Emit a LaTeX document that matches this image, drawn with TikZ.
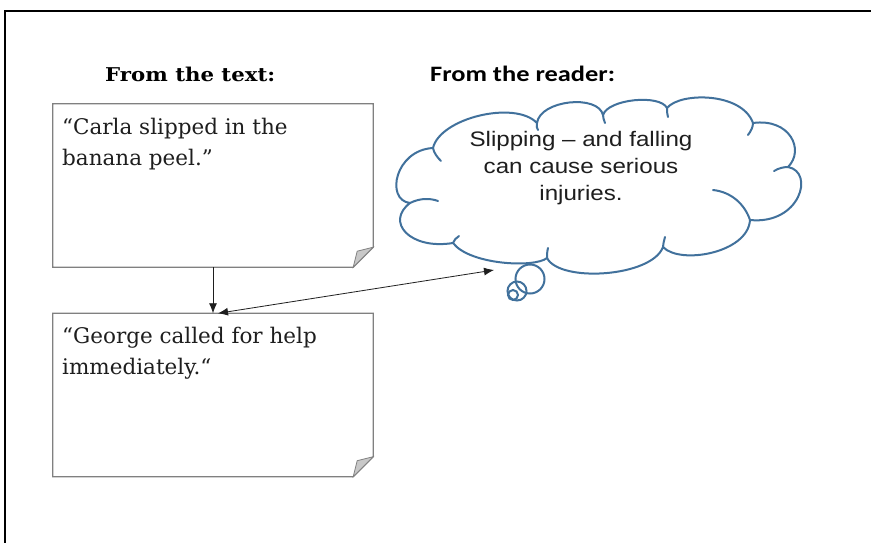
\documentclass[tikz,border=0pt]{standalone}
\usepackage{fontspec}
\usepackage{graphicx}
\setmainfont{DejaVu Serif}
\newfontfamily\carl{Carlito}
\newfontfamily\arialf{Liberation Sans}
\usetikzlibrary{arrows.meta}
\definecolor{cloudblue}{RGB}{65,113,156}
\definecolor{boxgray}{RGB}{128,128,128}
\definecolor{foldgray}{RGB}{200,200,200}
\definecolor{inkgray}{RGB}{30,30,30}
\begin{document}
\begin{tikzpicture}[x=1pt,y=-1pt,
  boxnode/.style={minimum width=320pt,minimum height=163pt,inner sep=0pt},
  paper/.style={draw=boxgray,line width=1.2pt,fill=white},
  fold/.style={draw=boxgray,line width=0.8pt,fill=foldgray},
  boxtext/.style={anchor=base west,inner sep=0pt,text=inkgray,font=\fontsize{21.5}{31}\selectfont},
  headA/.style={anchor=base west,inner sep=0pt,font=\bfseries\fontsize{19}{23}\selectfont},
  headB/.style={anchor=base west,inner sep=0pt,font=\carl\bfseries\fontsize{22}{26}\selectfont},
  cloudtext/.style={anchor=base,inner sep=0pt,text=inkgray,font=\arialf\fontsize{21}{27}\selectfont},
  cloudline/.style={draw=cloudblue,line width=2pt,fill=white,line join=round},
  stub/.style={draw=cloudblue,line width=2pt,line cap=round},
  bubble/.style={draw=cloudblue,line width=2pt},
  conn/.style={draw=inkgray,line width=0.8pt,-{Latex[length=10pt,width=8pt]}},
  conn2/.style={draw=inkgray,line width=0.8pt,{Latex[length=10pt,width=8pt]}-{Latex[length=10pt,width=8pt]}}]
\useasboundingbox (0,0) rectangle (871,542);
\clip (0,0) rectangle (871,542);
\fill[white] (0,0) rectangle (871,542);
\draw[line width=2pt] (900,11) -- (5,11) -- (5,600);

% headings
\node[headA] (h1) at (105,81) {\scalebox{1.12}[1]{From the text:}};
\node[headB] (h2) at (430,81) {\scalebox{1.2}[1]{From the reader:}};

% paper boxes
\node[boxnode] (b1) at (213,185.5) {};
\node[boxnode] (b2) at (213,395) {};
\foreach \b in {b1,b2}{
  \draw[paper] (\b.north west) -- (\b.north east) -- ([yshift=20pt]\b.south east)
     -- ([xshift=-20pt]\b.south east) -- (\b.south west) -- cycle;
  \draw[fold] ([yshift=20pt]\b.south east) -- ([xshift=-16pt,yshift=16pt]\b.south east)
     -- ([xshift=-20pt]\b.south east) -- cycle;
}
\node[boxtext] (t1) at (62,134) {\begin{tabular}[t]{@{}l@{}}“Carla slipped in the\\banana peel.”\end{tabular}};
\node[boxtext] (t2) at (62,343) {\begin{tabular}[t]{@{}l@{}}“George called for help\\immediately.“\end{tabular}};

% thought bubbles (behind the cloud)
\draw[bubble] (530,279) circle (14.5);
\draw[bubble] (517,291) circle (9.5);
\draw[bubble] (513,295) circle (5);

% cloud outline
\coordinate (j1) at (433,148);
\coordinate (j2) at (537,123);
\coordinate (j3) at (603,115);
\coordinate (j4) at (667,108);
\coordinate (j5) at (753,123);
\coordinate (j6) at (788,167);
\coordinate (j7) at (750,220);
\coordinate (j8) at (663,247);
\coordinate (j9) at (547,258);
\coordinate (j10) at (453,243);
\coordinate (j11) at (410,203);
\draw[cloudline] (j1) .. controls (440,118) and (515,100) .. (j2)
  .. controls (540,100) and (598,94) .. (j3)
  .. controls (608,99) and (660,94) .. (j4)
  .. controls (680,92) and (742,92) .. (j5)
  .. controls (790,118) and (805,150) .. (j6)
  .. controls (815,172) and (800,225) .. (j7)
  .. controls (748,253) and (680,265) .. (j8)
  .. controls (652,277) and (560,283) .. (j9)
  .. controls (535,268) and (470,265) .. (j10)
  .. controls (410,250) and (385,222) .. (j11)
  .. controls (385,200) and (395,150) .. (j1) -- cycle;
% inner stubs of the cloud
\draw[stub] (j11) .. controls (420,198) and (430,198) .. (438,201);
\draw[stub] (j1) .. controls (434,153) and (437,157) .. (441,161);
\draw[stub] (j2) .. controls (536,126) and (537,128) .. (538,130);
\draw[stub] (j3) .. controls (603,118) and (604,120) .. (605,123);
\draw[stub] (j4) .. controls (667,111) and (667,114) .. (668,117);
\draw[stub] (j5) .. controls (753,127) and (751,131) .. (748,135);
\draw[stub] (j6) .. controls (784,167) and (779,168) .. (774,171);
\draw[stub] (j7) .. controls (745,205) and (732,192) .. (713,190);
\draw[stub] (j8) .. controls (663,244) and (664,241) .. (665,237);
\draw[stub] (j9) .. controls (547,255) and (547,252) .. (548,248);
\draw[stub] (j10) .. controls (454,240) and (456,238) .. (459,236);
\node[cloudtext] (ct) at (581,146) {\scalebox{1.15}[1]{\begin{tabular}[t]{@{}c@{}}Slipping – and falling\\can cause serious\\injuries.\end{tabular}}};

% connectors
\coordinate (tip) at (494,270);
\draw[conn] (b1.south) -- (b2.north);
\draw[conn2] ([xshift=5pt]b2.north) -- (tip);
\end{tikzpicture}
\end{document}
